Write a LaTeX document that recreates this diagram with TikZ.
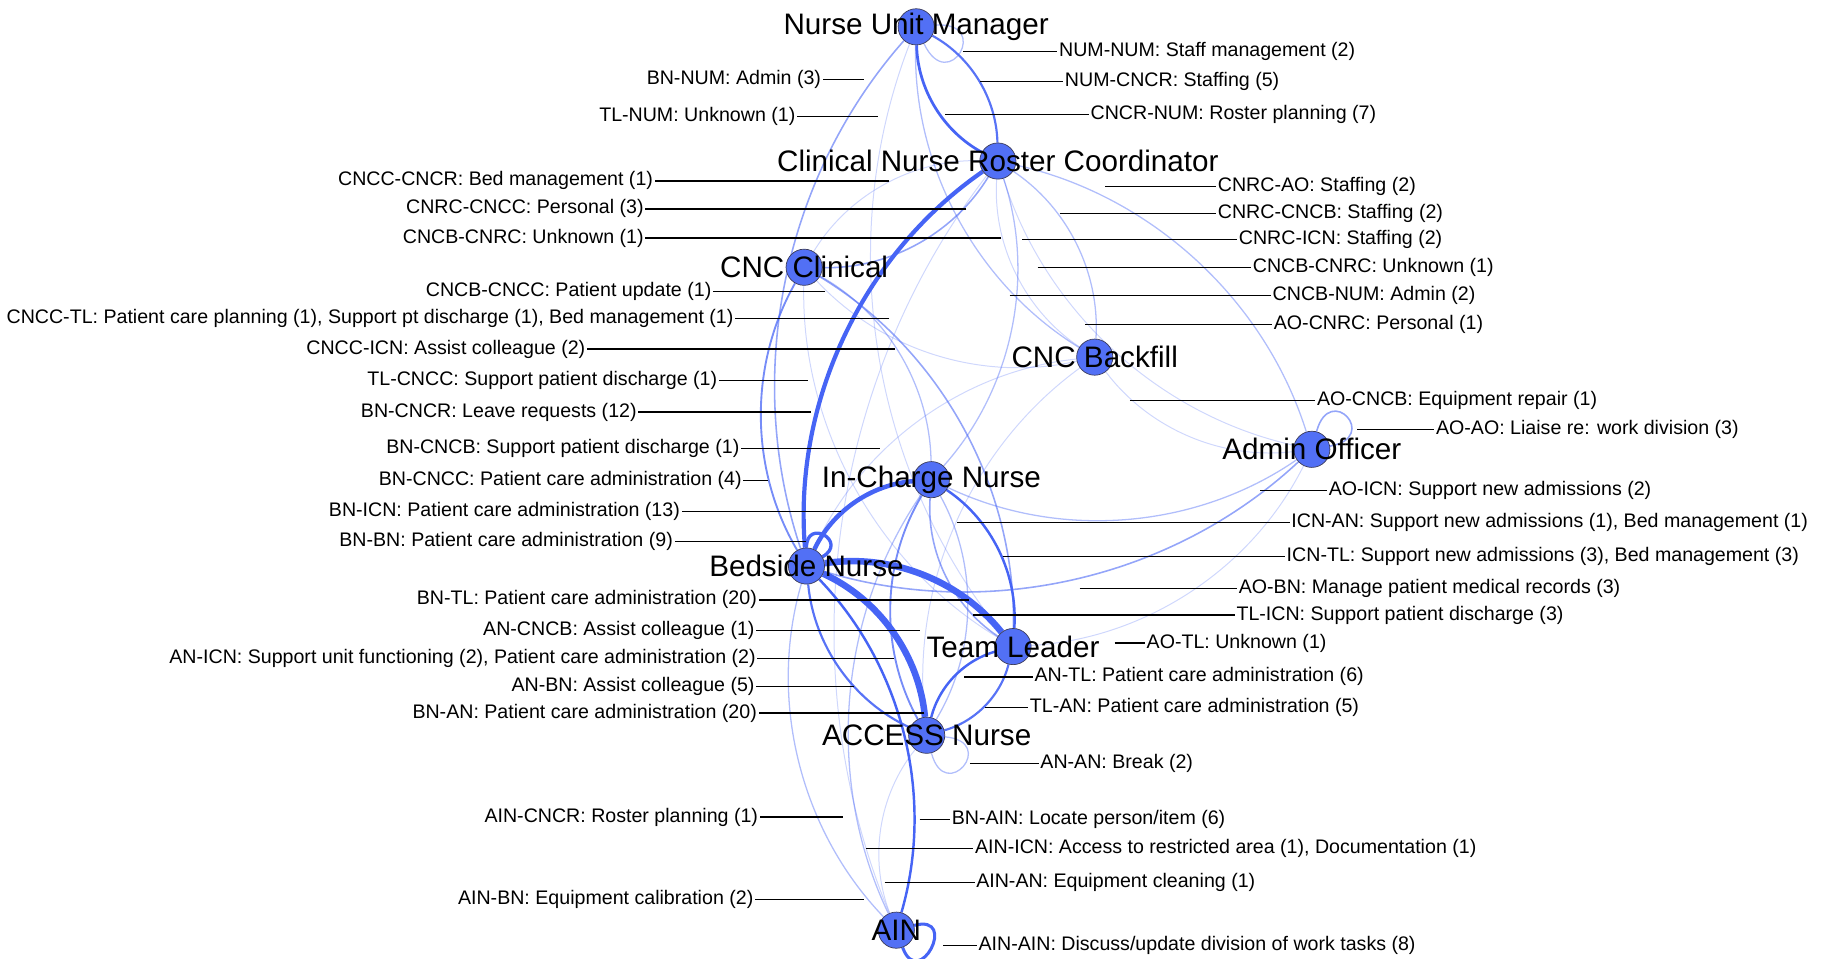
\documentclass[tikz,border=0pt]{standalone}
\usepackage{fontspec}
\setmainfont{Liberation Sans}
\pgfdeclarelayer{bg}
\pgfsetlayers{bg,main}
\begin{document}
\begin{tikzpicture}[x=1pt,y=1pt,
  hub/.style={circle,fill=hubColor,draw=rimColor,line width=0.6pt,minimum size=31pt,inner sep=0pt},
  hubtext/.style={text=black,inner sep=0pt,outer sep=0pt,font=\fontsize{25.4}{30}\selectfont},
  tag/.style={text=black,inner sep=0pt,outer sep=1.5pt,font=\fontsize{16.8}{20}\selectfont},
  lead/.style={draw=black,line width=1.1pt},
  tie/.code={\pgfmathsetmacro\tieop{min(1,0.1+0.16*#1)}\pgfmathsetmacro\tiewd{0.6+0.25*#1}\pgfkeysalso{draw=edgeColor,line width=\tiewd pt,draw opacity=\tieop}},
  curl/.style={bend left=30,looseness=0.9}]
\definecolor{hubColor}{RGB}{82,112,245}
\definecolor{rimColor}{RGB}{60,60,90}
\definecolor{edgeColor}{RGB}{70,100,245}
\path[use as bounding box] (0,0) rectangle (1568,821);
\node[hub] (NUM) at (785,798) {};
\node[hub] (CNCR) at (855,683) {};
\node[hub] (CNCC) at (689,592) {};
\node[hub] (CNCB) at (938,515) {};
\node[hub] (AO) at (1124,436) {};
\node[hub] (ICN) at (798,410) {};
\node[hub] (BN) at (691,336) {};
\node[hub] (TL) at (868,267) {};
\node[hub] (AN) at (794,191) {};
\node[hub] (AIN) at (768,24) {};
\node[hubtext] (tNUM) at (NUM) {Nurse Unit Manager};
\node[hubtext] (tCNCR) at (CNCR) {Clinical Nurse Roster Coordinator};
\node[hubtext] (tCNCC) at (CNCC) {CNC Clinical};
\node[hubtext] (tCNCB) at (CNCB) {CNC Backfill};
\node[hubtext] (tAO) at (AO) {Admin Officer};
\node[hubtext] (tICN) at (ICN) {In-Charge Nurse};
\node[hubtext] (tBN) at (BN) {Bedside Nurse};
\node[hubtext] (tTL) at (TL) {Team Leader};
\node[hubtext] (tAN) at (AN) {ACCESS Nurse};
\node[hubtext] (tAIN) at (AIN) {AIN};
\begin{pgfonlayer}{bg}
\draw[tie=2] (NUM) to[out=5,in=-65,min distance=50pt] (NUM);
\draw[tie=3] (BN) to[curl] (NUM);
\draw[tie=1] (TL) to[curl] (NUM);
\draw[tie=5] (NUM) to[curl] (CNCR);
\draw[tie=7] (CNCR) to[curl] (NUM);
\draw[tie=1] (CNCC) to[curl] (CNCR);
\draw[tie=3] (CNCR) to[curl] (CNCC);
\draw[tie=1] (CNCB) to[curl] (CNCR);
\draw[tie=2] (CNCR) to[curl] (AO);
\draw[tie=2] (CNCR) to[curl] (CNCB);
\draw[tie=2] (CNCR) to[curl] (ICN);
\draw[tie=2] (CNCB) to[curl] (NUM);
\draw[tie=1] (AO) to[curl] (CNCR);
\draw[tie=1] (CNCB) to[curl] (CNCC);
\draw[tie=3] (CNCC) to[curl] (TL);
\draw[tie=2] (CNCC) to[curl] (ICN);
\draw[tie=1] (TL) to[curl] (CNCC);
\draw[tie=12] (BN) to[curl] (CNCR);
\draw[tie=1] (BN) to[curl] (CNCB);
\draw[tie=4] (BN) to[curl] (CNCC);
\draw[tie=13] (BN) to[curl] (ICN);
\draw[tie=9] (BN) to[out=90,in=30,min distance=26pt] (BN);
\draw[tie=1] (AO) to[curl] (CNCB);
\draw[tie=3] (AO) to[out=75,in=10,min distance=44pt] (AO);
\draw[tie=2] (AO) to[curl] (ICN);
\draw[tie=2] (ICN) to[curl] (AN);
\draw[tie=6] (ICN) to[curl] (TL);
\draw[tie=3] (AO) to[curl] (BN);
\draw[tie=3] (TL) to[curl] (ICN);
\draw[tie=1] (AO) to[curl] (TL);
\draw[tie=20] (BN) to[curl] (TL);
\draw[tie=1] (AN) to[curl] (CNCB);
\draw[tie=4] (AN) to[curl] (ICN);
\draw[tie=5] (AN) to[curl] (BN);
\draw[tie=20] (BN) to[curl] (AN);
\draw[tie=6] (AN) to[curl] (TL);
\draw[tie=5] (TL) to[curl] (AN);
\draw[tie=2] (AN) to[out=-5,in=-75,min distance=46pt] (AN);
\draw[tie=1] (AIN) to[curl] (CNCR);
\draw[tie=6] (BN) to[curl] (AIN);
\draw[tie=2] (AIN) to[curl] (ICN);
\draw[tie=1] (AIN) to[curl] (AN);
\draw[tie=2] (AIN) to[curl] (BN);
\draw[tie=8] (AIN) to[out=15,in=-70,min distance=40pt] (AIN);
\end{pgfonlayer}
\node[tag,anchor=west] (lNUMNUM) at (906,777) {NUM-NUM: Staff management (2)};
\coordinate (pNUMNUM) at (825,777);
\draw[lead] (pNUMNUM) -- (lNUMNUM);
\node[tag,anchor=west] (lNUMCNCR) at (911,751) {NUM-CNCR: Staffing (5)};
\coordinate (pNUMCNCR) at (840,751);
\draw[lead] (pNUMCNCR) -- (lNUMCNCR);
\node[tag,anchor=west] (lCNCRNUM) at (933,723) {CNCR-NUM: Roster planning (7)};
\coordinate (pCNCRNUM) at (810,723);
\draw[lead] (pCNCRNUM) -- (lCNCRNUM);
\node[tag,anchor=east] (lBNNUM) at (705,753) {BN-NUM: Admin (3)};
\coordinate (pBNNUM) at (740,753);
\draw[lead] (pBNNUM) -- (lBNNUM);
\node[tag,anchor=east] (lTLNUM) at (683,721) {TL-NUM: Unknown (1)};
\coordinate (pTLNUM) at (752,721);
\draw[lead] (pTLNUM) -- (lTLNUM);
\node[tag,anchor=east] (lCNCCCNCR) at (561,666) {CNCC-CNCR: Bed management (1)};
\coordinate (pCNCCCNCR) at (762,666);
\draw[lead] (pCNCCCNCR) -- (lCNCCCNCR);
\node[tag,anchor=east] (lCNRCCNCC) at (553,642) {CNRC-CNCC: Personal (3)};
\coordinate (pCNRCCNCC) at (828,642);
\draw[lead] (pCNRCCNCC) -- (lCNRCCNCC);
\node[tag,anchor=east] (lCNCBCNRCa) at (553,617) {CNCB-CNRC: Unknown (1)};
\coordinate (pCNCBCNRCa) at (858,617);
\draw[lead] (pCNCBCNRCa) -- (lCNCBCNRCa);
\node[tag,anchor=west] (lCNRCAO) at (1042,661) {CNRC-AO: Staffing (2)};
\coordinate (pCNRCAO) at (947,661);
\draw[lead] (pCNRCAO) -- (lCNRCAO);
\node[tag,anchor=west] (lCNRCCNCB) at (1042,638) {CNRC-CNCB: Staffing (2)};
\coordinate (pCNRCCNCB) at (908,638);
\draw[lead] (pCNRCCNCB) -- (lCNRCCNCB);
\node[tag,anchor=west] (lCNRCICN) at (1060,616) {CNRC-ICN: Staffing (2)};
\coordinate (pCNRCICN) at (876,616);
\draw[lead] (pCNRCICN) -- (lCNRCICN);
\node[tag,anchor=west] (lCNCBCNRCb) at (1072,592) {CNCB-CNRC: Unknown (1)};
\coordinate (pCNCBCNRCb) at (889,592);
\draw[lead] (pCNCBCNRCb) -- (lCNCBCNRCb);
\node[tag,anchor=west] (lCNCBNUM) at (1089,568) {CNCB-NUM: Admin (2)};
\coordinate (pCNCBNUM) at (865,568);
\draw[lead] (pCNCBNUM) -- (lCNCBNUM);
\node[tag,anchor=west] (lAOCNRC) at (1090,543) {AO-CNRC: Personal (1)};
\coordinate (pAOCNRC) at (930,543);
\draw[lead] (pAOCNRC) -- (lAOCNRC);
\node[tag,anchor=east] (lCNCBCNCC) at (611,571) {CNCB-CNCC: Patient update (1)};
\coordinate (pCNCBCNCC) at (707,571);
\draw[lead] (pCNCBCNCC) -- (lCNCBCNCC);
\node[tag,anchor=east] (lCNCCTL) at (630,548) {CNCC-TL: Patient care planning (1), Support pt discharge (1), Bed management (1)};
\coordinate (pCNCCTL) at (762,548);
\draw[lead] (pCNCCTL) -- (lCNCCTL);
\node[tag,anchor=east] (lCNCCICN) at (503,522) {CNCC-ICN: Assist colleague (2)};
\coordinate (pCNCCICN) at (767,522);
\draw[lead] (pCNCCICN) -- (lCNCCICN);
\node[tag,anchor=east] (lTLCNCC) at (616,495) {TL-CNCC: Support patient discharge (1)};
\coordinate (pTLCNCC) at (692,495);
\draw[lead] (pTLCNCC) -- (lTLCNCC);
\node[tag,anchor=east] (lBNCNCR) at (547,468) {BN-CNCR: Leave requests (12)};
\coordinate (pBNCNCR) at (695,468);
\draw[lead] (pBNCNCR) -- (lBNCNCR);
\node[tag,anchor=east] (lBNCNCB) at (635,437) {BN-CNCB: Support patient discharge (1)};
\coordinate (pBNCNCB) at (754,437);
\draw[lead] (pBNCNCB) -- (lBNCNCB);
\node[tag,anchor=east] (lBNCNCC) at (637,409) {BN-CNCC: Patient care administration (4)};
\coordinate (pBNCNCC) at (658,409);
\draw[lead] (pBNCNCC) -- (lBNCNCC);
\node[tag,anchor=east] (lBNICN) at (584,383) {BN-ICN: Patient care administration (13)};
\coordinate (pBNICN) at (721,383);
\draw[lead] (pBNICN) -- (lBNICN);
\node[tag,anchor=east] (lBNBN) at (578,357) {BN-BN: Patient care administration (9)};
\coordinate (pBNBN) at (691,357);
\draw[lead] (pBNBN) -- (lBNBN);
\node[tag,anchor=west] (lAOCNCB) at (1127,478) {AO-CNCB: Equipment repair (1)};
\coordinate (pAOCNCB) at (968,478);
\draw[lead] (pAOCNCB) -- (lAOCNCB);
\node[tag,anchor=west] (lAOAO) at (1229,453) {AO-AO: Liaise re: work division (3)};
\coordinate (pAOAO) at (1163,453);
\draw[lead] (pAOAO) -- (lAOAO);
\node[tag,anchor=west] (lAOICN) at (1137,401) {AO-ICN: Support new admissions (2)};
\coordinate (pAOICN) at (1080,401);
\draw[lead] (pAOICN) -- (lAOICN);
\node[tag,anchor=west] (lICNAN) at (1105,373) {ICN-AN: Support new admissions (1), Bed management (1)};
\coordinate (pICNAN) at (820,373);
\draw[lead] (pICNAN) -- (lICNAN);
\node[tag,anchor=west] (lICNTL) at (1101,344) {ICN-TL: Support new admissions (3), Bed management (3)};
\coordinate (pICNTL) at (859,344);
\draw[lead] (pICNTL) -- (lICNTL);
\node[tag,anchor=west] (lAOBN) at (1060,317) {AO-BN: Manage patient medical records (3)};
\coordinate (pAOBN) at (925,317);
\draw[lead] (pAOBN) -- (lAOBN);
\node[tag,anchor=west] (lTLICN) at (1058,294) {TL-ICN: Support patient discharge (3)};
\coordinate (pTLICN) at (834,294);
\draw[lead] (pTLICN) -- (lTLICN);
\node[tag,anchor=west] (lAOTL) at (981,270) {AO-TL: Unknown (1)};
\coordinate (pAOTL) at (955,270);
\draw[lead] (pAOTL) -- (lAOTL);
\node[tag,anchor=east] (lBNTL) at (650,307) {BN-TL: Patient care administration (20)};
\coordinate (pBNTL) at (830,307);
\draw[lead] (pBNTL) -- (lBNTL);
\node[tag,anchor=east] (lANCNCB) at (648,281) {AN-CNCB: Assist colleague (1)};
\coordinate (pANCNCB) at (788,281);
\draw[lead] (pANCNCB) -- (lANCNCB);
\node[tag,anchor=east] (lANICN) at (649,257) {AN-ICN: Support unit functioning (2), Patient care administration (2)};
\coordinate (pANICN) at (766,257);
\draw[lead] (pANICN) -- (lANICN);
\node[tag,anchor=east] (lANBN) at (648,233) {AN-BN: Assist colleague (5)};
\coordinate (pANBN) at (732,233);
\draw[lead] (pANBN) -- (lANBN);
\node[tag,anchor=east] (lBNAN) at (650,210) {BN-AN: Patient care administration (20)};
\coordinate (pBNAN) at (792,210);
\draw[lead] (pBNAN) -- (lBNAN);
\node[tag,anchor=west] (lANTL) at (885,241) {AN-TL: Patient care administration (6)};
\coordinate (pANTL) at (826,241);
\draw[lead] (pANTL) -- (lANTL);
\node[tag,anchor=west] (lTLAN) at (881,215) {TL-AN: Patient care administration (5)};
\coordinate (pTLAN) at (844,215);
\draw[lead] (pTLAN) -- (lTLAN);
\node[tag,anchor=west] (lANAN) at (890,167) {AN-AN: Break (2)};
\coordinate (pANAN) at (831,167);
\draw[lead] (pANAN) -- (lANAN);
\node[tag,anchor=west] (lBNAIN) at (814,119) {BN-AIN: Locate person/item (6)};
\coordinate (pBNAIN) at (788,119);
\draw[lead] (pBNAIN) -- (lBNAIN);
\node[tag,anchor=west] (lAINICN) at (834,94) {AIN-ICN: Access to restricted area (1), Documentation (1)};
\coordinate (pAINICN) at (742,94);
\draw[lead] (pAINICN) -- (lAINICN);
\node[tag,anchor=west] (lAINAN) at (835,65) {AIN-AN: Equipment cleaning (1)};
\coordinate (pAINAN) at (758,65);
\draw[lead] (pAINAN) -- (lAINAN);
\node[tag,anchor=west] (lAINAIN) at (837,11) {AIN-AIN: Discuss/update division of work tasks (8)};
\coordinate (pAINAIN) at (808,11);
\draw[lead] (pAINAIN) -- (lAINAIN);
\node[tag,anchor=east] (lAINCNCR) at (651,121) {AIN-CNCR: Roster planning (1)};
\coordinate (pAINCNCR) at (722,121);
\draw[lead] (pAINCNCR) -- (lAINCNCR);
\node[tag,anchor=east] (lAINBN) at (647,50) {AIN-BN: Equipment calibration (2)};
\coordinate (pAINBN) at (740,50);
\draw[lead] (pAINBN) -- (lAINBN);
\end{tikzpicture}
\end{document}
